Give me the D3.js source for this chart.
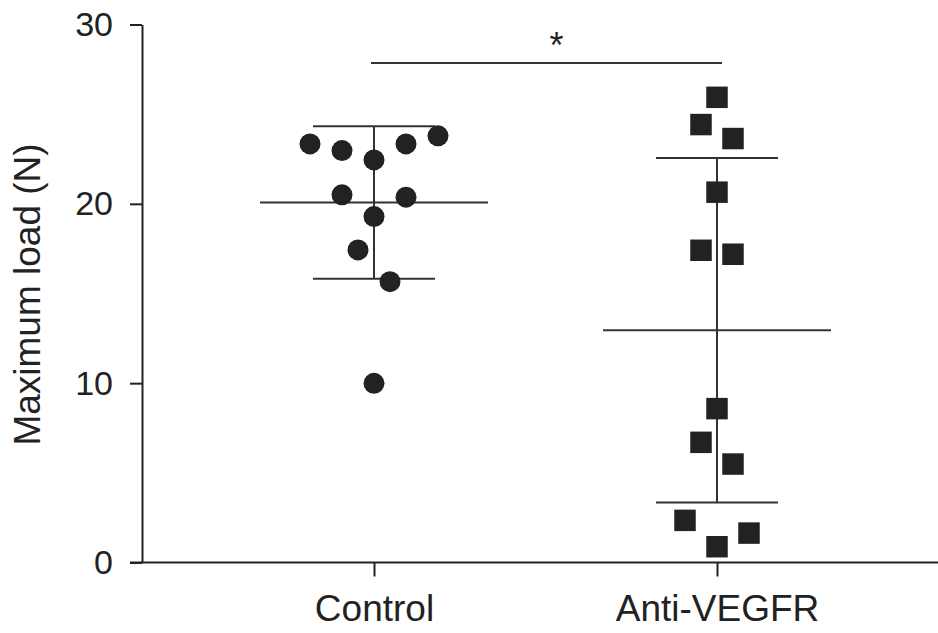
<!DOCTYPE html>
<html>
<head>
<meta charset="utf-8">
<script src="https://cdn.jsdelivr.net/npm/d3@7"></script>
<style>
  body { margin: 0; background: #fff; }
  svg text { font-family: "Liberation Sans", Arial, sans-serif; fill: #222; }
</style>
</head>
<body>
<svg id="chart" width="938" height="633"></svg>
<script>
// groups and the values
const groups = ['Control', 'Anti-VEGFR'];
const controlValues = [23.34, 22.97, 22.45, 23.34, 23.79, 20.5, 20.37, 19.29, 17.43, 15.66, 9.99];
const controlSlots = [-2, -1, 0, 1, 2, -1, 1, 0, -0.5, 0.5, 0];
const antiValues = [25.94, 24.42, 23.64, 20.65, 17.41, 17.19, 8.58, 6.7, 5.49, 2.35, 1.64, 0.88];
const antiSlots = [0, -0.5, 0.5, 0, -0.5, 0.5, 0, -0.5, 0.5, -1, 1, 0];
const means = [20.07, 12.95];
const sds = [4.25, 9.6];
const yTicks = [0, 10, 20, 30];
const sigLevel = 27.85;
const sigLabel = '*';

const ink = '#222';
const svg = d3.select('#chart');

const y = d3.scaleLinear().domain([0, 30]).range([562.5, 24.5]);
const x = d3.scalePoint().domain(groups).range([374, 717]);
const dodge = d3.scaleLinear().domain([-1, 1]).range([-32, 32]);
const axisX = 142;

// y axis
const yAxis = d3.axisLeft(y)
    .tickValues(yTicks)
    .tickSize(12)
    .tickSizeOuter(0)
    .tickPadding(17);

const gy = svg.append('g')
    .attr('transform', `translate(${axisX},0)`)
    .call(yAxis);
gy.selectAll('path, line').attr('stroke', ink).attr('stroke-width', 2);
gy.selectAll('text').style('font-size', '34px').attr('fill', ink);

// x axis: ticks from the scale, baseline drawn to the right edge
const xAxis = d3.axisBottom(x)
    .tickSize(14)
    .tickPadding(18);

const gx = svg.append('g')
    .attr('transform', `translate(0,${y(0)})`)
    .call(xAxis);
gx.select('.domain').remove();
gx.selectAll('line').attr('stroke', ink).attr('stroke-width', 2);
gx.selectAll('text').style('font-size', '37px').attr('fill', ink);

svg.append('line')
    .attr('x1', axisX - 12).attr('x2', 938)
    .attr('y1', y(0)).attr('y2', y(0))
    .attr('stroke', ink).attr('stroke-width', 2);

// y title
svg.append('text')
    .attr('transform', `translate(40, ${(y(0) + y(30)) / 2 + 1}) rotate(-90)`)
    .style('font-size', '37px')
    .style('text-anchor', 'middle')
    .text('Maximum load (N)');

// mean and SD lines
const stats = groups.map((g, i) => ({ g, mean: means[i], sd: sds[i] }));
const lines = svg.append('g')
    .attr('stroke', '#333')
    .attr('stroke-width', 2);

stats.forEach(s => {
    const cx = x(s.g);
    lines.append('line')
        .attr('x1', cx - 114).attr('x2', cx + 114)
        .attr('y1', y(s.mean)).attr('y2', y(s.mean));
    lines.append('line')
        .attr('x1', cx).attr('x2', cx)
        .attr('y1', y(s.mean + s.sd)).attr('y2', y(s.mean - s.sd));
    [s.mean + s.sd, s.mean - s.sd].forEach(v => {
        lines.append('line')
            .attr('x1', cx - 61).attr('x2', cx + 61)
            .attr('y1', y(v)).attr('y2', y(v));
    });
});

// significance bar
svg.append('line')
    .attr('x1', x(groups[0]) - 3).attr('x2', x(groups[1]) + 5)
    .attr('y1', y(sigLevel)).attr('y2', y(sigLevel))
    .attr('stroke', '#333').attr('stroke-width', 2);

svg.append('text')
    .attr('x', (x(groups[0]) + x(groups[1])) / 2 + 11)
    .attr('y', y(sigLevel) - 5)
    .style('font-size', '36px')
    .style('text-anchor', 'middle')
    .text(sigLabel);

// points
const controlPts = controlValues.map((v, i) => ({ g: groups[0], v, slot: controlSlots[i] }));
const antiPts = antiValues.map((v, i) => ({ g: groups[1], v, slot: antiSlots[i] }));

svg.append('g').selectAll('path')
    .data(controlPts)
    .enter()
    .append('path')
    .attr('d', d3.symbol(d3.symbolCircle, Math.PI * 10.5 * 10.5))
    .attr('transform', d => `translate(${x(d.g) + dodge(d.slot)},${y(d.v)})`)
    .attr('fill', ink);

svg.append('g').selectAll('path')
    .data(antiPts)
    .enter()
    .append('path')
    .attr('d', d3.symbol(d3.symbolSquare, 21.5 * 21.5))
    .attr('transform', d => `translate(${x(d.g) + dodge(d.slot)},${y(d.v)})`)
    .attr('fill', ink);
</script>
</body>
</html>
